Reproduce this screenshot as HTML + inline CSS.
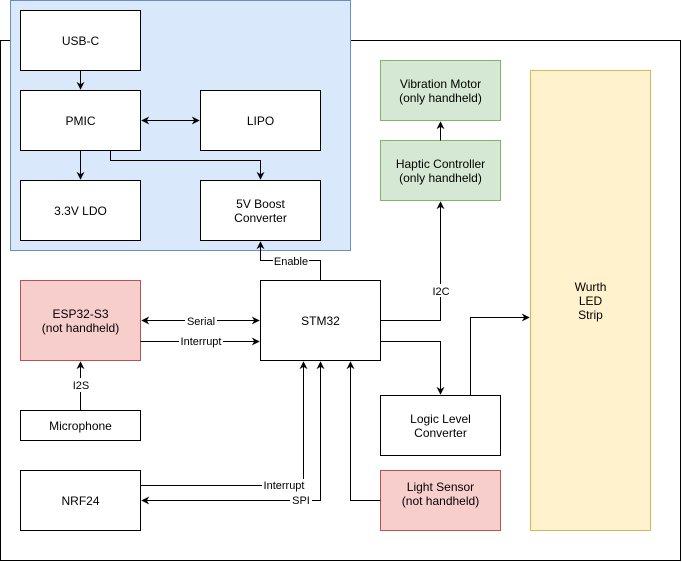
<!DOCTYPE html>
<html><head><meta charset="utf-8"><style>
html,body{margin:0;padding:0;background:#fff;width:682px;height:562px;overflow:hidden}
text{font-family:"Liberation Sans",Arial,sans-serif;font-size:12px;fill:#000}
</style></head><body>
<svg width="682" height="562" viewBox="0 0 682 562" xmlns="http://www.w3.org/2000/svg">
<defs>
<marker id="a" viewBox="0 0 10 10" refX="9" refY="5" markerWidth="8" markerHeight="8" orient="auto-start-reverse" markerUnits="userSpaceOnUse">
<path d="M0,0 L10,5 L0,10 L3,5 z" fill="#000"/></marker>
</defs>
<rect x="0.5" y="40.5" width="680" height="520" fill="#fff" stroke="#000"/>
<rect x="10.5" y="0.5" width="340" height="250" fill="#dae8fc" stroke="#6c8ebf"/>
<g stroke="#000" fill="#fff">
<rect x="20.5" y="10.5" width="120" height="60"/>
<rect x="20.5" y="90.5" width="120" height="60"/>
<rect x="200.5" y="90.5" width="120" height="60"/>
<rect x="20.5" y="180.5" width="120" height="60"/>
<rect x="200.5" y="180.5" width="120" height="60"/>
<rect x="20.5" y="410.5" width="120" height="30"/>
<rect x="20.5" y="470.5" width="120" height="60"/>
<rect x="260.5" y="280.5" width="120" height="80"/>
<rect x="380.5" y="395.5" width="120" height="60"/>
</g>
<rect x="20.5" y="280.5" width="120" height="80" fill="#f8cecc" stroke="#b85450"/>
<rect x="380.5" y="470.5" width="120" height="60" fill="#f8cecc" stroke="#b85450"/>
<rect x="380.5" y="60.5" width="120" height="60" fill="#d5e8d4" stroke="#82b366"/>
<rect x="380.5" y="140.5" width="120" height="60" fill="#d5e8d4" stroke="#82b366"/>
<rect x="530.5" y="70.5" width="120" height="460" fill="#fff2cc" stroke="#d6b656"/>
<g stroke="#000" fill="none">
<path d="M80.5 70.5V89" marker-end="url(#a)"/>
<path d="M142 120.5H199" marker-start="url(#a)" marker-end="url(#a)"/>
<path d="M80.5 150.5V179" marker-end="url(#a)"/>
<path d="M110.5 150.5V160.5H260.5V179" marker-end="url(#a)"/>
<path d="M320.5 280.5V260.5H260.5V242" marker-end="url(#a)"/>
<path d="M142 320.5H259" marker-start="url(#a)" marker-end="url(#a)"/>
<path d="M140.5 341.5H259" marker-end="url(#a)"/>
<path d="M80.5 410.5V362" marker-end="url(#a)"/>
<path d="M380.5 320.5H440.5V202" marker-end="url(#a)"/>
<path d="M440.5 140.5V122" marker-end="url(#a)"/>
<path d="M380.5 341.5H440.5V394" marker-end="url(#a)"/>
<path d="M470.5 395.5V317.5H529" marker-end="url(#a)"/>
<path d="M380.5 500.5H350.5V362" marker-end="url(#a)"/>
<path d="M140.5 485.5H303.5V362" marker-end="url(#a)"/>
<path d="M142 500.5H320.5V362" marker-start="url(#a)" marker-end="url(#a)"/>
</g>
<g fill="#fff">
<rect x="273" y="254" width="36" height="13"/>
<rect x="185" y="314" width="32" height="13"/>
<rect x="179" y="335" width="44" height="13"/>
<rect x="70" y="378" width="22" height="14"/>
<rect x="430" y="284" width="22" height="13"/>
<rect x="262" y="479" width="44" height="13"/>
<rect x="290" y="494" width="22" height="13"/>
</g>
<g font-size="11px" text-anchor="middle">
<text x="291" y="265" style="font-size:11px">Enable</text>
<text x="201" y="325" style="font-size:11px">Serial</text>
<text x="201" y="345" style="font-size:11px">Interrupt</text>
<text x="81" y="389" style="font-size:11px">I2S</text>
<text x="441" y="295" style="font-size:11px">I2C</text>
<text x="284" y="489" style="font-size:11px">Interrupt</text>
<text x="301" y="504" style="font-size:11px">SPI</text>
</g>
<g text-anchor="middle">
<text x="80.5" y="45">USB-C</text>
<text x="80.5" y="125">PMIC</text>
<text x="260.5" y="125">LIPO</text>
<text x="80.5" y="215">3.3V LDO</text>
<text x="260.5" y="208">5V Boost</text>
<text x="260.5" y="222">Converter</text>
<text x="80.5" y="318">ESP32-S3</text>
<text x="80.5" y="332">(not handheld)</text>
<text x="80.5" y="430">Microphone</text>
<text x="80.5" y="505">NRF24</text>
<text x="320.5" y="325">STM32</text>
<text x="440.5" y="88">Vibration Motor</text>
<text x="440.5" y="102">(only handheld)</text>
<text x="440.5" y="168">Haptic Controller</text>
<text x="440.5" y="182">(only handheld)</text>
<text x="440.5" y="423">Logic Level</text>
<text x="440.5" y="437">Converter</text>
<text x="440.5" y="491">Light Sensor</text>
<text x="440.5" y="505">(not handheld)</text>
<text x="590.5" y="291">Wurth</text>
<text x="590.5" y="305">LED</text>
<text x="590.5" y="319">Strip</text>
</g>
</svg>
</body></html>
